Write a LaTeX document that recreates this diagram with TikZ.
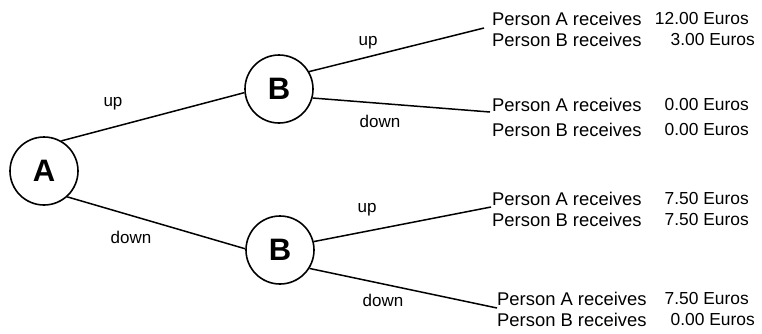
\documentclass[tikz,border=0pt]{standalone}
\usepackage{fontspec}
\setmainfont{Liberation Sans}
\begin{document}
\begin{tikzpicture}[x=1pt,y=-1pt,
  player/.style={circle,draw,line width=1.6pt,minimum size=68pt,inner sep=0pt,font=\fontsize{31}{31}\selectfont\bfseries},
  edge/.style={line width=1.5pt},
  lbl/.style={font=\fontsize{17}{17}\selectfont,inner sep=0pt},
  pay/.style={font=\fontsize{18.4}{18.4}\selectfont,inner sep=0pt},
  amt/.style={font=\fontsize{17.4}{17.4}\selectfont,inner sep=0pt},
]
\useasboundingbox (0,0) rectangle (762,333);
\node[player] (A) at (44,171) {A};
\node[player] (B1) at (279,89) {B};
\node[player] (B2) at (280,250) {B};

\coordinate (e1) at (484,28);
\coordinate (e2) at (490,112);
\coordinate (e3) at (491,207);
\coordinate (e4) at (497,308);

\draw[edge] (A.60) -- (B1.186);
\draw[edge] (A.-48) -- (B2.178);
\draw[edge] (B1.30) -- (e1);
\draw[edge] (B1.-15) -- (e2);
\draw[edge] (B2.14) -- (e3);
\draw[edge] (B2.-32) -- (e4);

\node[lbl] (l1) at (113,104) {up};
\node[lbl] (l2) at (131,237) {down};
\node[lbl] (l3) at (368,43) {up};
\node[lbl] (l4) at (380,121) {down};
\node[lbl] (l5) at (367,210) {up};
\node[lbl] (l6) at (383,300) {down};

\node[pay,anchor=west] (p1a) at (492,19) {Person A receives};
\node[amt,anchor=east] (v1a) at (749,19) {12.00 Euros};
\node[pay,anchor=west] (p1b) at (492,40) {Person B receives};
\node[amt,anchor=east] (v1b) at (755,40) {3.00 Euros};

\node[pay,anchor=west] (p2a) at (492,105) {Person A receives};
\node[amt,anchor=east] (v2a) at (749,105) {0.00 Euros};
\node[pay,anchor=west] (p2b) at (492,130) {Person B receives};
\node[amt,anchor=east] (v2b) at (749,130) {0.00 Euros};

\node[pay,anchor=west] (p3a) at (492,199) {Person A receives};
\node[amt,anchor=east] (v3a) at (749,199) {7.50 Euros};
\node[pay,anchor=west] (p3b) at (492,220) {Person B receives};
\node[amt,anchor=east] (v3b) at (749,220) {7.50 Euros};

\node[pay,anchor=west] (p4a) at (497,299) {Person A receives};
\node[amt,anchor=east] (v4a) at (749,299) {7.50 Euros};
\node[pay,anchor=west] (p4b) at (497,320) {Person B receives};
\node[amt,anchor=east] (v4b) at (755,320) {0.00 Euros};
\end{tikzpicture}
\end{document}
